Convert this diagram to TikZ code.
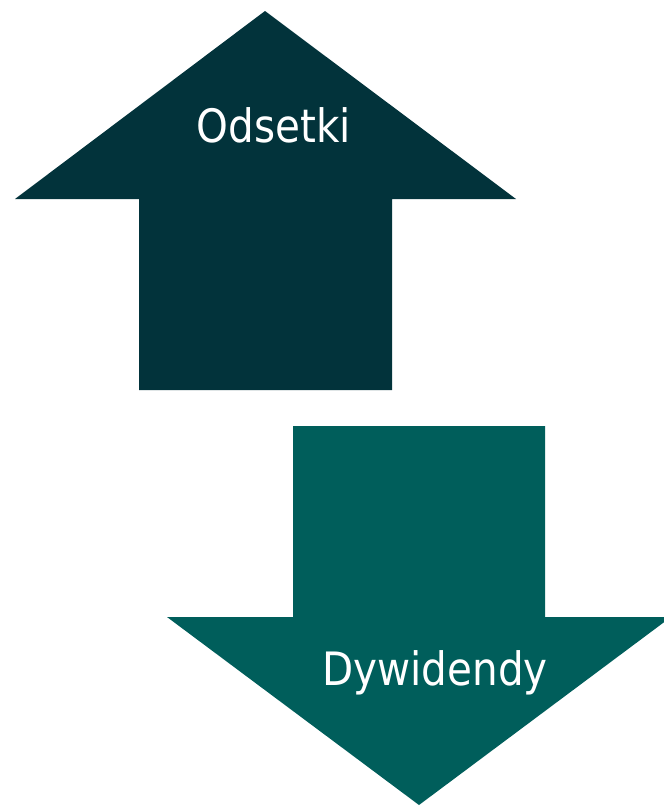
\documentclass[tikz,border=0pt]{standalone}
\usepackage{fontspec}
\setmainfont{DejaVu Sans}
\definecolor{odsetkicol}{HTML}{02333B}
\definecolor{dywcol}{HTML}{005E5B}
\begin{document}
\begin{tikzpicture}[
          x=1pt, y=-1pt,
          arr-lbl/.style = {text=white, font=\fontsize{46}{54}\selectfont, anchor=base, inner sep=0pt, xscale=0.88}
        ]
          \useasboundingbox (0,0) rectangle (664,806);

          \fill[odsetkicol] (265,11) -- (516,199) -- (392,199) -- (392,390)
            -- (139,390) -- (139,199) -- (15,199) -- cycle;
          \fill[dywcol] (293,426) -- (545,426) -- (545,617) -- (671,617)
            -- (419,805) -- (167,617) -- (293,617) -- cycle;

          \node[arr-lbl] (odsetki) at (274,142) {Odsetki};
          \node[arr-lbl] (dyw) at (435,685) {Dywidendy};
        \end{tikzpicture}
\end{document}
